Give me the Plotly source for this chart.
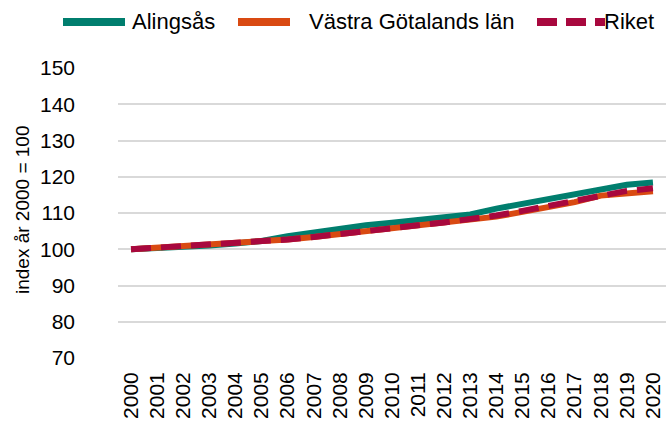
import plotly.graph_objects as go

years = [str(y) for y in range(2000, 2021)]
alingsas = [100.0, 100.2, 100.5, 101.0, 101.6, 102.3, 103.6, 104.6, 105.8, 106.6, 107.3,
            108.0, 108.8, 109.6, 111.2, 112.6, 114.0, 115.0, 116.8, 117.8, 118.4]
vastra_gotaland = [100.0, 100.4, 100.8, 101.2, 101.7, 102.1, 102.7, 103.4, 104.2, 105.0, 105.8,
                   106.5, 107.3, 108.1, 109.0, 110.3, 111.6, 113.0, 114.8, 115.5, 116.0]
riket = [100.0, 100.4, 100.8, 101.2, 101.7, 102.1, 102.7, 103.4, 104.3, 105.1, 105.9,
         106.6, 107.4, 108.3, 109.3, 110.6, 112.0, 113.4, 115.0, 116.1, 116.8]
series_names = ["Alingsås", "Västra Götalands län", "Riket"]
y_ticks = [70, 80, 90, 100, 110, 120, 130, 140, 150]
y_title = "index år 2000 = 100"

TEAL = "#007E6E"
ORANGE = "#D94A12"
CRIMSON = "#A8083E"
FONT = "Liberation Sans, Arial, sans-serif"

W, H = 666, 422
L, R, T, B = 118, 0, 68, 64
PW, PH = W - L - R, H - T - B


def px_x(x):
    return (x - L) / PW


def px_y(y):
    return (H - B - y) / PH


fig = go.Figure()
fig.add_trace(go.Scatter(x=years, y=alingsas, mode="lines", name=series_names[0],
                         line=dict(color=TEAL, width=6), showlegend=False))
fig.add_trace(go.Scatter(x=years, y=vastra_gotaland, mode="lines", name=series_names[1],
                         line=dict(color=ORANGE, width=6), showlegend=False))
fig.add_trace(go.Scatter(x=years, y=riket, mode="lines", name=series_names[2],
                         line=dict(color=CRIMSON, width=6, dash="20px,10px"), showlegend=False))

# manual legend (layout decoration)
ly = px_y(22)
shapes = [
    dict(type="line", xref="paper", yref="paper", x0=px_x(63), x1=px_x(125), y0=ly, y1=ly,
         line=dict(color=TEAL, width=8)),
    dict(type="line", xref="paper", yref="paper", x0=px_x(238), x1=px_x(290), y0=ly, y1=ly,
         line=dict(color=ORANGE, width=8)),
    dict(type="line", xref="paper", yref="paper", x0=px_x(537), x1=px_x(605), y0=ly, y1=ly,
         line=dict(color=CRIMSON, width=8, dash="20px,9px")),
]
annotations = [
    dict(text=series_names[0], xref="paper", yref="paper", x=px_x(130), y=ly, xanchor="left",
         yanchor="middle", showarrow=False, font=dict(size=22, color="#000", family=FONT)),
    dict(text=series_names[1], xref="paper", yref="paper", x=px_x(307), y=ly, xanchor="left",
         yanchor="middle", showarrow=False, font=dict(size=22, color="#000", family=FONT)),
    dict(text=series_names[2], xref="paper", yref="paper", x=px_x(602), y=ly, xanchor="left",
         yanchor="middle", showarrow=False, font=dict(size=22, color="#000", family=FONT)),
    dict(text=y_title, xref="paper", yref="paper", x=px_x(22), y=px_y(210), textangle=-90,
         xanchor="center", yanchor="middle", showarrow=False,
         font=dict(size=19, color="#000", family=FONT)),
]

fig.update_layout(
    width=W, height=H,
    margin=dict(l=L, r=R, t=T, b=B),
    paper_bgcolor="white", plot_bgcolor="white",
    font=dict(family=FONT, color="#000"),
    shapes=shapes, annotations=annotations,
    showlegend=False,
)
fig.update_xaxes(type="category", range=[-0.5, 20.5], tickangle=-90,
                 tickfont=dict(size=21, family=FONT, color="#000"),
                 showgrid=False, showline=False, zeroline=False, ticks="",
                 ticklabelstandoff=9)
fig.update_yaxes(range=[70, 150], tickvals=y_ticks, showgrid=True, gridcolor="#D9D9D9",
                 gridwidth=1.5, zeroline=False, showline=False, ticks="",
                 tickfont=dict(size=21, family=FONT, color="#000"), ticklabelstandoff=42)

fig.write_html("out.html", config={"displayModeBar": False},
               post_script="document.body.style.margin='0';document.body.style.overflow='hidden';")
